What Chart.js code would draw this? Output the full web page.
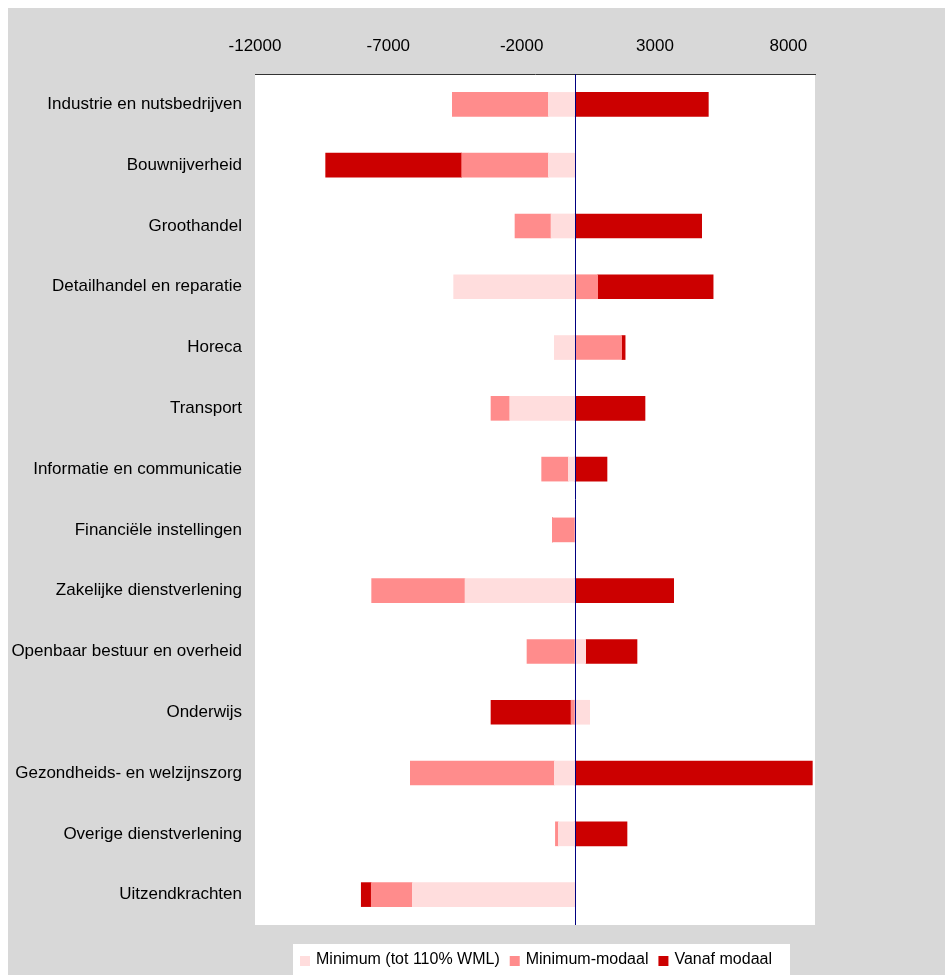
<!DOCTYPE html>
<html>
<head>
<meta charset="utf-8">
<title>Sectoren</title>
<script src="https://cdn.jsdelivr.net/npm/chart.js@4.4.0/dist/chart.umd.min.js"></script>
<style>
  body { margin: 0; background: #ffffff; }
  canvas { display: block; }
</style>
</head>
<body>
<canvas id="sector-chart" width="945" height="975"></canvas>
<script>
"use strict";

const categories = [
  "Industrie en nutsbedrijven",
  "Bouwnijverheid",
  "Groothandel",
  "Detailhandel en reparatie",
  "Horeca",
  "Transport",
  "Informatie en communicatie",
  "Financiële instellingen",
  "Zakelijke dienstverlening",
  "Openbaar bestuur en overheid",
  "Onderwijs",
  "Gezondheids- en welzijnszorg",
  "Overige dienstverlening",
  "Uitzendkrachten",
];

// the three series
const minimumValues = [-1000, -1000, -900, -4550, -775, -2450, -250, 0, -4125, 400, 550, -775, -625, -6100];
const minimumModaalValues = [-3600, -3250, -1350, 850, 1750, -700, -1000, -850, -3500, -1800, -150, -5400, -110, -1540];
const vanafModaalValues = [5000, -5100, 4750, 4330, 130, 2625, 1200, 0, 3700, 1925, -3000, 8900, 1950, -375];

const seriesNames = ["Minimum (tot 110% WML)", "Minimum-modaal", "Vanaf modaal"];
const seriesColors = ["#FFDDDD", "#FF8C8C", "#CC0000"];

const tickValues = [-12000, -7000, -2000, 3000, 8000];
const axisMin = -12000;
const axisMax = 9000;

const fontFamily = "'Liberation Sans', Arial, Helvetica, sans-serif";

// gray frame, white plot area
const backgroundPlugin = {
  id: "background",
  beforeDraw(chart) {
    const ctx = chart.ctx;
    const area = chart.chartArea;
    ctx.save();
    ctx.fillStyle = "#ffffff";
    ctx.fillRect(0, 0, chart.width, chart.height);
    ctx.fillStyle = "#D8D8D8";
    ctx.fillRect(8, 8, chart.width - 8, chart.height - 8);
    ctx.fillStyle = "#ffffff";
    ctx.fillRect(area.left, area.top, area.right - area.left, area.bottom - area.top);
    ctx.restore();
  },
};

// navy line at zero
const zeroLinePlugin = {
  id: "zeroLine",
  afterDatasetsDraw(chart) {
    const ctx = chart.ctx;
    const area = chart.chartArea;
    const x = Math.round(chart.scales.x.getPixelForValue(0)) + 0.5;
    ctx.save();
    ctx.strokeStyle = "#000080";
    ctx.lineWidth = 1;
    ctx.beginPath();
    ctx.moveTo(x, area.top);
    ctx.lineTo(x, area.bottom);
    ctx.stroke();
    ctx.restore();
  },
};

// legend box under the plot
const legendPlugin = {
  id: "boxLegend",
  afterDraw(chart) {
    const ctx = chart.ctx;
    ctx.save();
    ctx.font = "16px " + fontFamily;
    ctx.textBaseline = "middle";
    ctx.fillStyle = "#ffffff";
    ctx.fillRect(293, 944, 497, 31);
    let x = 300;
    const y = 960;
    for (let i = 0; i < seriesNames.length; i++) {
      ctx.fillStyle = seriesColors[i];
      ctx.fillRect(x, y - 4, 10, 10);
      x += 16;
      ctx.fillStyle = "#000000";
      ctx.fillText(seriesNames[i], x, y);
      x += ctx.measureText(seriesNames[i]).width + 10;
    }
    ctx.restore();
  },
};

const datasets = [
  { label: seriesNames[0], data: minimumValues },
  { label: seriesNames[1], data: minimumModaalValues },
  { label: seriesNames[2], data: vanafModaalValues },
];
for (let i = 0; i < datasets.length; i++) {
  datasets[i].backgroundColor = seriesColors[i];
  datasets[i].borderWidth = 0;
  datasets[i].barThickness = 24;
}

new Chart(document.getElementById("sector-chart"), {
  type: "bar",
  data: {
    labels: categories,
    datasets: datasets,
  },
  options: {
    indexAxis: "y",
    responsive: false,
    animation: false,
    devicePixelRatio: 1,
    layout: {
      padding: { top: 0, left: 0, right: 130, bottom: 50 },
    },
    plugins: {
      legend: { display: false },
      tooltip: { enabled: false },
    },
    scales: {
      x: {
        type: "linear",
        position: "top",
        stacked: true,
        min: axisMin,
        max: axisMax,
        afterBuildTicks(scale) {
          scale.ticks = tickValues.map((v) => ({ value: v }));
        },
        afterFit(scale) {
          scale.height = 74;
        },
        grid: { display: false, drawTicks: false },
        border: { display: true, color: "#333333", width: 1 },
        ticks: {
          color: "#000000",
          padding: 17,
          font: { family: fontFamily, size: 17 },
          callback: (v) => String(v),
        },
      },
      y: {
        stacked: true,
        afterFit(scale) {
          scale.width = 255;
        },
        grid: { display: false, drawTicks: false },
        border: { display: false },
        ticks: {
          color: "#000000",
          padding: 13,
          font: { family: fontFamily, size: 17 },
        },
      },
    },
  },
  plugins: [backgroundPlugin, zeroLinePlugin, legendPlugin],
});
</script>
</body>
</html>
